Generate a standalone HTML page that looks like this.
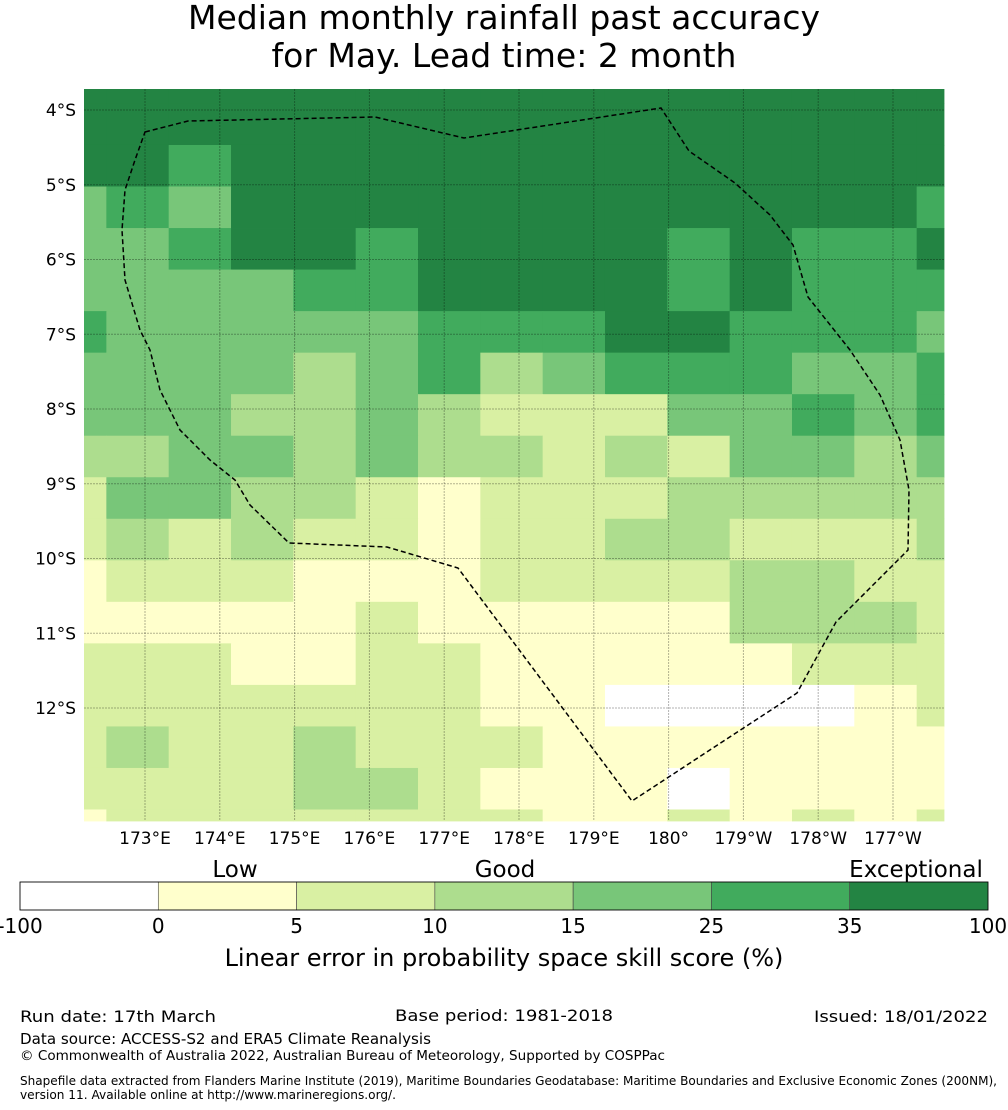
<!DOCTYPE html>
<html><head><meta charset="utf-8"><style>
html,body{margin:0;padding:0;background:#fff;}
svg{display:block;font-family:"DejaVu Sans","Liberation Sans",sans-serif;}
</style></head><body>
<svg id="chart" width="1008" height="1110" viewBox="0 0 1008 1110" xmlns="http://www.w3.org/2000/svg">
<text x="504" y="29" font-size="33" text-anchor="middle">Median monthly rainfall past accuracy</text>
<text x="504" y="67" font-size="33" text-anchor="middle">for May. Lead time: 2 month</text>
<g id="map"></g>
<g id="cbar"></g>
<text x="504" y="966" font-size="24" text-anchor="middle">Linear error in probability space skill score (%)</text>
<text x="20" y="1022" font-size="16" textLength="196" lengthAdjust="spacingAndGlyphs">Run date: 17th March</text>
<text x="395" y="1021" font-size="16" textLength="218" lengthAdjust="spacingAndGlyphs">Base period: 1981-2018</text>
<text x="988" y="1022" font-size="16" text-anchor="end" textLength="174" lengthAdjust="spacingAndGlyphs">Issued: 18/01/2022</text>
<text x="20" y="1044" font-size="15" textLength="411" lengthAdjust="spacingAndGlyphs">Data source: ACCESS-S2 and ERA5 Climate Reanalysis</text>
<text x="20" y="1060" font-size="13" textLength="645" lengthAdjust="spacingAndGlyphs">© Commonwealth of Australia 2022, Australian Bureau of Meteorology, Supported by COSPPac</text>
<text x="20" y="1085" font-size="12" textLength="977" lengthAdjust="spacingAndGlyphs">Shapefile data extracted from Flanders Marine Institute (2019), Maritime Boundaries Geodatabase: Maritime Boundaries and Exclusive Economic Zones (200NM),</text>
<text x="20" y="1099" font-size="12" textLength="376" lengthAdjust="spacingAndGlyphs">version 11. Available online at http://www.marineregions.org/.</text>
</svg>
<script>
// class values: W=-5, Y=2, L=7, M=12, G=20, D=30, X=40 (skill score %)
const W=-5,Y=2,L=7,M=12,G=20,D=30,X=40;
const skillRows = [
[X,X,X,X,X,X,X,X,X,X,X,X,X,X,X],
[X,X,X,X,X,X,X,X,X,X,X,X,X,X,X],
[X,X,D,X,X,X,X,X,X,X,X,X,X,X,X],
[G,D,G,X,X,X,X,X,X,X,X,X,X,X,D],
[G,G,D,X,X,D,X,X,X,X,D,X,D,D,X],
[G,G,G,G,D,D,X,X,X,X,D,X,D,D,D],
[D,G,G,G,G,G,D,D,D,X,X,D,D,D,G],
[G,G,G,G,M,G,D,M,G,D,D,D,G,G,D],
[G,G,G,M,M,G,M,L,L,L,G,G,D,G,D],
[M,M,G,G,M,G,M,M,L,M,L,G,G,M,G],
[L,G,G,M,M,L,Y,L,L,L,M,M,M,M,M],
[L,M,L,M,L,L,Y,L,L,M,M,L,L,L,M],
[Y,L,L,L,Y,Y,Y,L,L,L,L,M,M,L,L],
[Y,Y,Y,Y,Y,L,Y,Y,Y,Y,Y,M,M,M,L],
[L,L,L,Y,Y,L,L,Y,Y,Y,Y,Y,L,L,L],
[L,L,L,L,L,L,L,Y,Y,W,W,W,W,Y,L],
[L,M,L,L,M,L,L,L,Y,Y,Y,Y,Y,Y,Y],
[L,L,L,L,M,M,L,Y,Y,Y,W,Y,Y,Y,Y],
[Y,L,L,L,L,L,L,L,Y,Y,L,Y,L,Y,L]
];
const lonTicks = [173,174,175,176,177,178,179,180,181,182,183];
const lonTickLabels = ["173°E","174°E","175°E","176°E","177°E","178°E","179°E","180°","179°W","178°W","177°W"];
const latTicks = [4,5,6,7,8,9,10,11,12];
const latTickLabels = ["4°S","5°S","6°S","7°S","8°S","9°S","10°S","11°S","12°S"];
const binEdges = [-100,0,5,10,15,25,35,100];
const binColors = ["#ffffff","#ffffcc","#d9f0a3","#addd8e","#78c679","#41ab5d","#238443"];
const categoryLabels = ["Low","Good","Exceptional"];

const NS="http://www.w3.org/2000/svg";
const MX0=84,MX1=944,MY0=89,MY1=821;
function xScale(lon){return 145+(lon-173)*74.8;}
function yScale(lat){return 110+(lat-4)*74.75;}
const lonStart=172.4833, dLon=0.8333, latStart=3.9125, dLat=0.5556;
function colorFor(v){for(let i=0;i<binColors.length;i++){if(v<binEdges[i+1])return binColors[i];}return binColors[binColors.length-1];}
function mk(tag,attrs,parent){const e=document.createElementNS(NS,tag);for(const k in attrs)e.setAttribute(k,attrs[k]);parent.appendChild(e);return e;}

const map=document.getElementById('map');
skillRows.forEach((row,r)=>{
  row.forEach((v,c)=>{
    let x0=xScale(lonStart+(c-1)*dLon), x1=xScale(lonStart+c*dLon);
    let y0=yScale(latStart+(r-1)*dLat), y1=yScale(latStart+r*dLat);
    x0=Math.max(x0,MX0);x1=Math.min(x1,MX1);y0=Math.max(y0,MY0);y1=Math.min(y1,MY1);
    if(x1<=x0||y1<=y0)return;
    const e=mk('rect',{x:x0,y:y0,width:x1-x0+0.4,height:y1-y0+0.4,fill:colorFor(v)},map);
    
    
  });
});
lonTicks.forEach((t,i)=>{
  const x=xScale(t);
  const l=mk('line',{x1:x,x2:x,y1:MY0,y2:MY1,stroke:'rgba(0,0,0,0.3)','stroke-width':1,'stroke-dasharray':'2,1'},map);
  
  
  const tx=mk('text',{x:x,y:844,'font-size':17,'text-anchor':'middle'},map);
  tx.textContent=lonTickLabels[i];
  
  
});
latTicks.forEach((t,i)=>{
  const y=yScale(t);
  const l=mk('line',{x1:MX0,x2:MX1,y1:y,y2:y,stroke:'rgba(0,0,0,0.3)','stroke-width':1,'stroke-dasharray':'2,1'},map);
  
  
  const tx=mk('text',{x:76,y:y+6,'font-size':17,'text-anchor':'end'},map);
  tx.textContent=latTickLabels[i];
  
  
});
const eez=mk('path',{d:"M145,132 L188,121 L375,117 L464,138 L661,108 L689,151 L735,183 L770,215 L793,245 L808,297 L850,350 L880,395 L900,440 L909,490 L908,550 L836,622 L797,693 L632,801 L458,568 L387,547 L289,543 L250,505 L235,480 L210,460 L180,430 L160,390 L150,350 L140,330 L125,280 L122,230 L125,190 L135,160 Z",fill:'none',stroke:'#000','stroke-width':1.5,'stroke-dasharray':'5,3'},map);



const cb=document.getElementById('cbar');
const CB0=20,CB1=988,CBY=882,CBH=28,segW=(CB1-CB0)/binColors.length;
binColors.forEach((col,i)=>{
  const e=mk('rect',{x:CB0+i*segW,y:CBY,width:segW,height:CBH,fill:col,stroke:'#444','stroke-width':0.6},cb);
  
  
});
const ob=mk('rect',{x:CB0,y:CBY,width:CB1-CB0,height:CBH,fill:'none',stroke:'#000','stroke-width':0.8},cb);


binEdges.forEach((v,i)=>{
  const tx=mk('text',{x:CB0+i*segW,y:933,'font-size':20,'text-anchor':'middle'},cb);
  tx.textContent=String(v);
  
  
});
const catX=[235,505,916];
categoryLabels.forEach((s,i)=>{
  const tx=mk('text',{x:catX[i],y:877,'font-size':23,'text-anchor':'middle'},cb);
  tx.textContent=s;
  
  
});
</script>
</body></html>
